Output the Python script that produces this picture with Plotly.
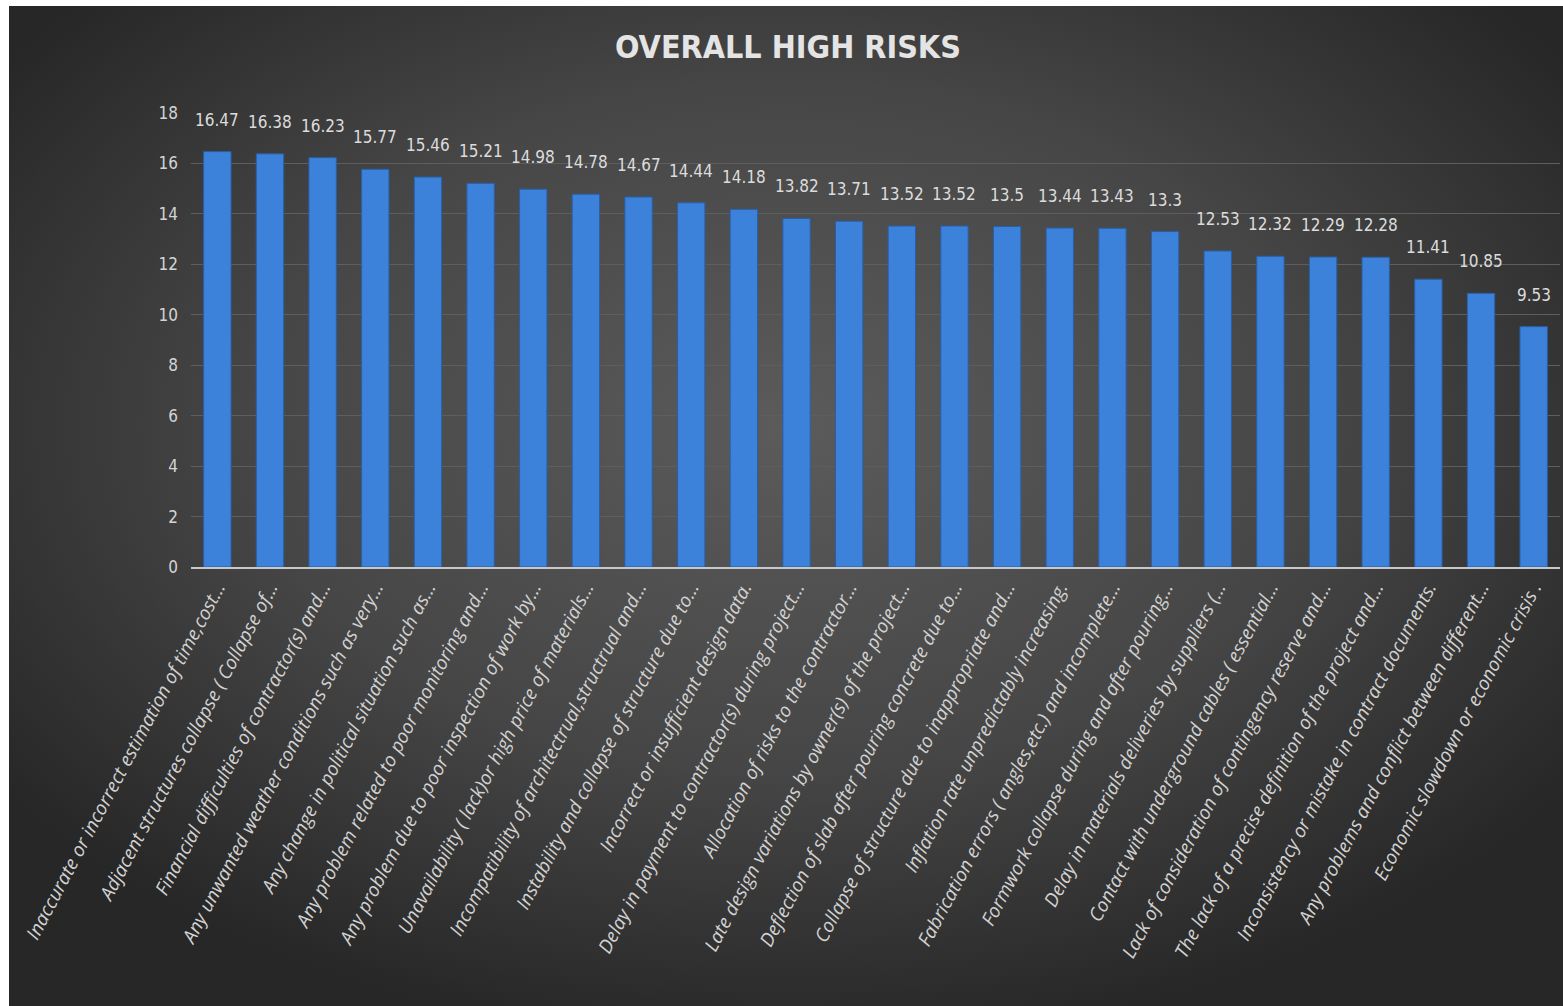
import base64
import plotly.graph_objects as go

# Risk factors (as printed on the axis) and their overall scores
risks = [
    "Inaccurate or incorrect estimation of time,cost...",
    "Adjacent structures collapse ( Collapse of...",
    "Financial difficulties of contractor(s) and...",
    "Any unwanted weather conditions such as very...",
    "Any change in political situation such as...",
    "Any problem related to poor monitoring and...",
    "Any problem due to poor inspection of work by...",
    "Unavailability ( lack)or high price of materials...",
    "Incompatibility of architectrual,structrual and...",
    "Instability and collapse of structure due to...",
    "Incorrect or insufficient design data.",
    "Delay in payment to contractor(s) during project...",
    "Allocation of risks to the contractor...",
    "Late design variations by owner(s) of the project...",
    "Deflection of slab after pouring concrete due to...",
    "Collapse of structure due to inappropriate and...",
    "Inflation rate unpredictably increasing.",
    "Fabrication errors ( angles,etc.) and incomplete...",
    "Formwork collapse during and after pouring...",
    "Delay in materials deliveries by suppliers (...",
    "Contact with underground cables ( essential...",
    "Lack of consideration of contingency reserve and...",
    "The lack of a precise definition of the project and...",
    "Inconsistency or mistake in contract documents.",
    "Any problems and conflict between different...",
    "Economic slowdown or economic crisis .",
]
scores = [16.47, 16.38, 16.23, 15.77, 15.46, 15.21, 14.98, 14.78, 14.67, 14.44,
          14.18, 13.82, 13.71, 13.52, 13.52, 13.5, 13.44, 13.43, 13.3, 12.53,
          12.32, 12.29, 12.28, 11.41, 10.85, 9.53]
y_ticks = [0, 2, 4, 6, 8, 10, 12, 14, 16, 18]

NARROW = "Liberation Sans Narrow, DejaVu Sans Condensed, Roboto Condensed, Roboto, sans-serif"

# Dark radial-gradient backdrop
svg = """<svg xmlns='http://www.w3.org/2000/svg' width='1554' height='1000' viewBox='0 0 1554 1000' preserveAspectRatio='none'>
<defs><radialGradient id='g' cx='0.5' cy='0.42' r='0.62' gradientUnits='objectBoundingBox'>
<stop offset='0' stop-color='#5b5b5b'/><stop offset='0.55' stop-color='#464646'/><stop offset='1' stop-color='#272727'/>
</radialGradient></defs><rect width='1554' height='1000' fill='url(#g)'/></svg>"""
bg_uri = "data:image/svg+xml;base64," + base64.b64encode(svg.encode()).decode()

W, H = 1563, 1006
L, R, T, B = 191, 3, 113, 439

fig = go.Figure(go.Bar(
    x=risks,
    y=scores,
    width=0.52,
    marker=dict(color="#3c81da", line=dict(color="#2a5fa6", width=1)),
    hoverinfo="x+y",
))

# Value labels floating above each bar
value_labels = [
    dict(x=r, y=v, text=f"{v:g}", xref="x", yref="y", showarrow=False,
         yanchor="bottom", yshift=20,
         font=dict(family=NARROW, size=17, color="#dcdcdc"))
    for r, v in zip(risks, scores)
]

fig.update_layout(
    width=W, height=H,
    paper_bgcolor="white",
    plot_bgcolor="rgba(0,0,0,0)",
    margin=dict(l=L, r=R, t=T, b=B),
    showlegend=False,
    images=[dict(
        source=bg_uri, xref="paper", yref="paper",
        x=(9 - L) / (W - L - R), y=1 + (T - 6) / (H - T - B),
        sizex=(W - 9) / (W - L - R), sizey=(H - 6) / (H - T - B),
        xanchor="left", yanchor="top", sizing="stretch", layer="below",
    )],
    annotations=value_labels + [dict(
        text="<b>OVERALL HIGH RISKS</b>", xref="paper", yref="paper",
        x=(788 - L) / (W - L - R), y=1 + (T - 47) / (H - T - B),
        xanchor="center", yanchor="middle", showarrow=False,
        font=dict(family=NARROW, size=32, color="#e4e4e4"),
    )],
    xaxis=dict(
        type="category",
        tickangle=-62,
        tickfont=dict(family="Open Sans", size=19, color="#d2d2d2", style="italic"),
        automargin=False,
        showgrid=False,
        showline=True, linecolor="#c8c8c8", linewidth=2,
        ticks="", ticklen=0,
        range=[-0.5, len(risks) - 0.5],
    ),
    yaxis=dict(
        range=[0, 18],
        tickvals=y_ticks,
        tickfont=dict(family=NARROW, size=17, color="#d4d4d4"),
        showgrid=True, gridcolor="#5e5e5e", gridwidth=1,
        zeroline=False,
        showline=False,
        automargin=False,
        ticks="", ticklabelstandoff=12,
    ),
)

fig.write_html("out.html")
